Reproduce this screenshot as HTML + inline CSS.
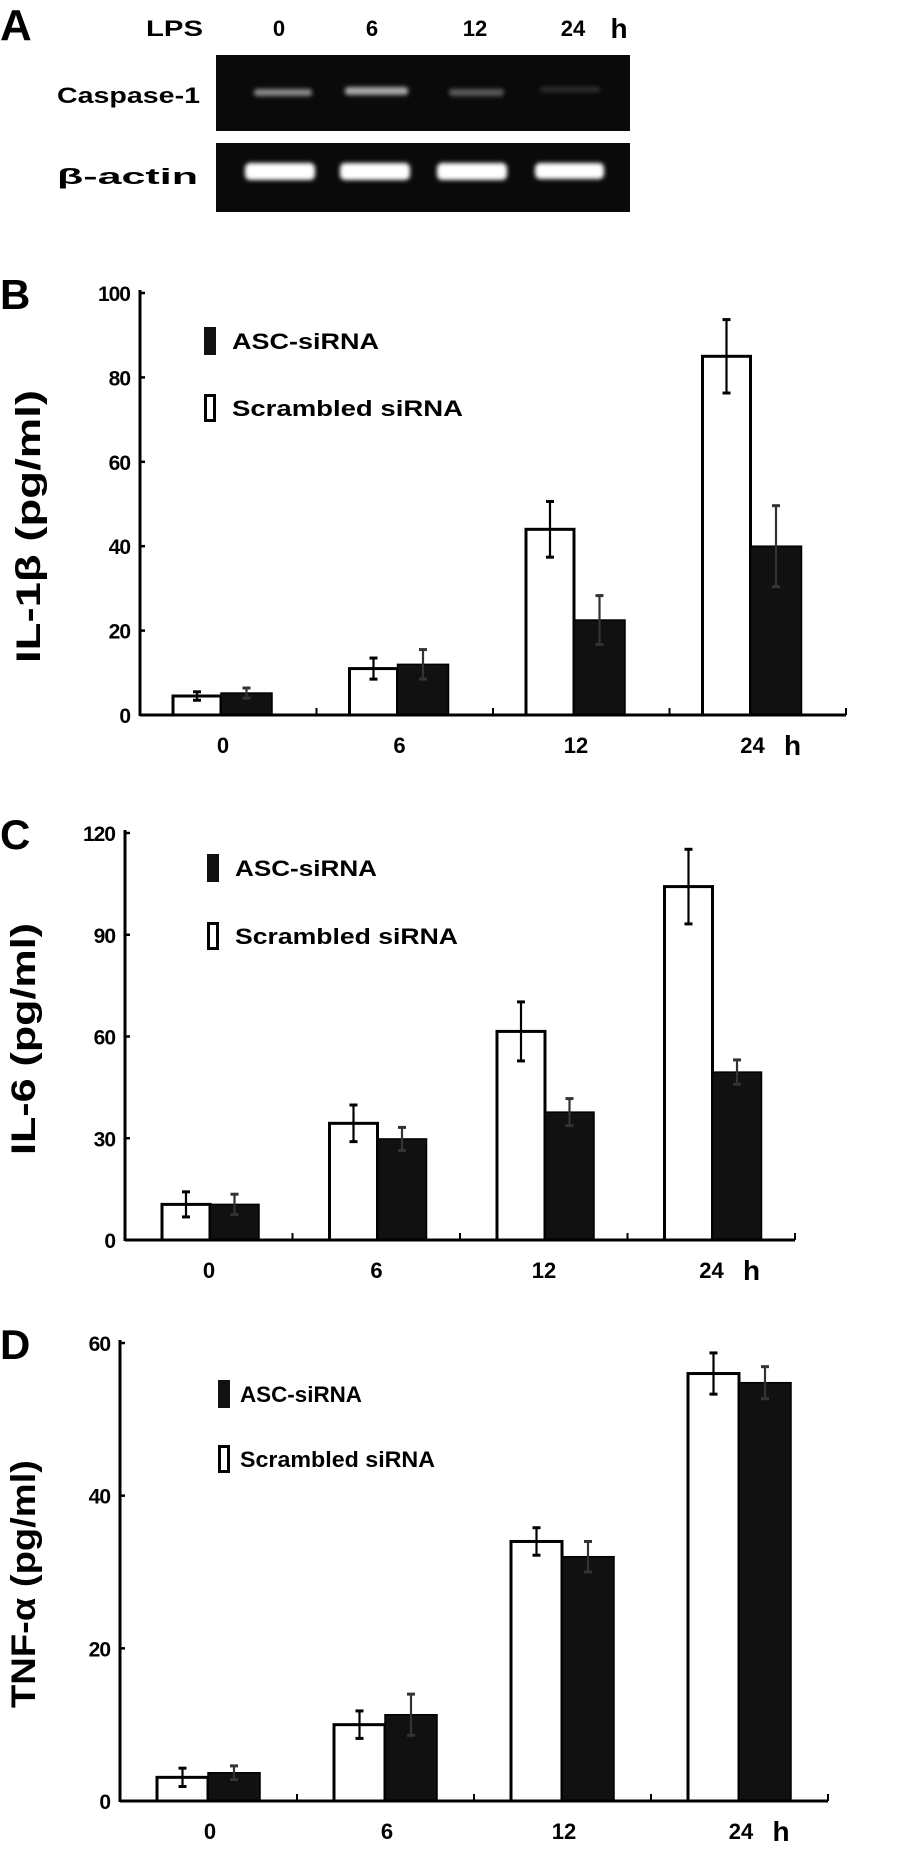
<!DOCTYPE html>
<html><head><meta charset="utf-8"><style>
html,body{margin:0;padding:0;background:#fff;}
svg{display:block;}
text{font-family:"Liberation Sans",Arial,sans-serif;font-weight:bold;fill:#000;}
</style></head><body>
<svg id="fig" width="898" height="1866" viewBox="0 0 898 1866" xmlns="http://www.w3.org/2000/svg">
  <g>
    <text x="0" y="40" font-size="44">A</text>
    <text x="146" y="36" font-size="22" textLength="57" lengthAdjust="spacingAndGlyphs">LPS</text>
    <text x="279" y="36" font-size="22" text-anchor="middle">0</text>
    <text x="372" y="36" font-size="22" text-anchor="middle">6</text>
    <text x="475" y="36" font-size="22" text-anchor="middle">12</text>
    <text x="573" y="36" font-size="22" text-anchor="middle">24</text>
    <text x="619" y="38" font-size="28" text-anchor="middle" font-weight="normal">h</text>
    <text x="57" y="103" font-size="22" textLength="143" lengthAdjust="spacingAndGlyphs">Caspase-1</text>
    <text x="57" y="184" font-size="22" textLength="141" lengthAdjust="spacingAndGlyphs">β-actin</text>
    <defs>
      <filter id="blur2" x="-20%" y="-100%" width="140%" height="300%"><feGaussianBlur stdDeviation="2.2"/></filter>
    </defs>
    <rect x="216" y="55" width="414" height="76" fill="#0a0a0a"/>
    <rect x="216" y="143" width="414" height="69" fill="#0a0a0a"/>
    <g filter="url(#blur2)">
      <rect x="254" y="89" width="58" height="7" rx="3" fill="#8a8a8a"/>
      <rect x="345" y="87" width="63" height="8" rx="3" fill="#a8a8a8"/>
      <rect x="449" y="89" width="55" height="7" rx="3" fill="#5a5a5a"/>
      <rect x="540" y="87" width="60" height="5" rx="3" fill="#333"/>
      <rect x="245" y="163" width="70" height="17" rx="5" fill="#fff"/>
      <rect x="340" y="163" width="70" height="17" rx="5" fill="#fff"/>
      <rect x="437" y="163" width="70" height="17" rx="5" fill="#fff"/>
      <rect x="535" y="163" width="69" height="16" rx="5" fill="#fff"/>
    </g>
  </g>
  <g id="charts"></g>
</svg>
<script>
// shared categories
const categories = ["0", "6", "12", "24"];
// Panel B: IL-1beta
const bScrambled = [4.5, 11, 44, 85];
const bScrambledErr = [1.0, 2.5, 6.6, 8.7];
const bAsc = [5.2, 12, 22.5, 40];
const bAscErr = [1.2, 3.5, 5.8, 9.6];
const bTicks = [0, 20, 40, 60, 80, 100];
// Panel C: IL-6
const cScrambled = [10.5, 34.4, 61.5, 104.2];
const cScrambledErr = [3.7, 5.4, 8.7, 11];
const cAsc = [10.5, 29.8, 37.7, 49.5];
const cAscErr = [3.0, 3.4, 4.0, 3.6];
const cTicks = [0, 30, 60, 90, 120];
// Panel D: TNF-alpha
const dScrambled = [3.1, 10.0, 34.0, 56.0];
const dScrambledErr = [1.2, 1.8, 1.8, 2.7];
const dAsc = [3.7, 11.3, 32.0, 54.8];
const dAscErr = [0.9, 2.7, 2.0, 2.1];
const dTicks = [0, 20, 40, 60];

const NS = "http://www.w3.org/2000/svg";
const root = document.getElementById("charts");
function mk(tag, attrs, parent) {
  const e = document.createElementNS(NS, tag);
  for (const k in attrs) e.setAttribute(k, attrs[k]);
  (parent || root).appendChild(e);
  return e;
}
function chart(cfg) {
  const g = mk("g", {});
  
  
  const vmax = cfg.ticks[cfg.ticks.length - 1];
  const y = v => cfg.base - (v / vmax) * (cfg.base - cfg.top);
  const gx = i => cfg.axisX + cfg.offset + i * cfg.step;
  // panel letter
  const pl = mk("text", {x: 0, y: cfg.top + 16, "font-size": 42}, g);
  pl.textContent = cfg.letter;
  
  
  // y title
  const tt = mk("text", {x: 0, y: 0, "font-size": 34, transform: "translate(" + cfg.titleX + "," + cfg.titleY1 + ") rotate(-90)", textLength: cfg.titleY1 - cfg.titleY0, lengthAdjust: "spacingAndGlyphs"}, g);
  tt.textContent = cfg.title;
  
  
  // bars
  cfg.ticks.length;
  for (let i = 0; i < categories.length; i++) {
    const x0 = gx(i);
    const w = mk("rect", {x: x0, y: y(cfg.scr[i]), width: cfg.bw, height: cfg.base - y(cfg.scr[i]), fill: "#fff", stroke: "#000", "stroke-width": 3}, g);
    
    
    const b = mk("rect", {x: x0 + cfg.bw, y: y(cfg.asc[i]), width: cfg.bw2, height: cfg.base - y(cfg.asc[i]), fill: "#111", stroke: "#000", "stroke-width": 1.5}, g);
    
    
    const pairs = [[x0 + cfg.bw / 2, cfg.scr[i], cfg.scrErr[i], '#000', 'scrambled'], [x0 + cfg.bw + cfg.bw2 / 2, cfg.asc[i], cfg.ascErr[i], '#333', 'asc']];
    for (const p of pairs) {
      const eg = mk("g", {stroke: p[3], "stroke-width": 2.2}, g);
      
      
      mk("line", {x1: p[0], x2: p[0], y1: y(p[1] + p[2]), y2: y(p[1] - p[2])}, eg);
      mk("line", {x1: p[0] - 4, x2: p[0] + 4, y1: y(p[1] + p[2]), y2: y(p[1] + p[2]), "stroke-width": 3}, eg);
      mk("line", {x1: p[0] - 4, x2: p[0] + 4, y1: y(p[1] - p[2]), y2: y(p[1] - p[2]), "stroke-width": 3}, eg);
    }
    const lbl = mk("text", {x: x0 + cfg.bw + cfg.labelShift, y: cfg.base + 38, "font-size": 22, "text-anchor": "middle"}, g);
    lbl.textContent = categories[i];
    
    
    const tk = mk("line", {x1: cfg.axisX + (i + 1) * cfg.step, x2: cfg.axisX + (i + 1) * cfg.step, y1: cfg.base, y2: cfg.base - 7, stroke: "#000", "stroke-width": 2}, g);
    
    
  }
  const h = mk("text", {x: gx(3) + cfg.bw + cfg.labelShift + 40, y: cfg.base + 40, "font-size": 28, "text-anchor": "middle", "font-weight": "normal"}, g);
  h.textContent = "h";
  
  
  // axes
  const ya = mk("line", {x1: cfg.axisX, x2: cfg.axisX, y1: cfg.top - 3, y2: cfg.base + 1, stroke: "#000", "stroke-width": 3}, g);
  
  
  const xa = mk("line", {x1: cfg.axisX, x2: cfg.axisX + 4 * cfg.step, y1: cfg.base, y2: cfg.base, stroke: "#000", "stroke-width": 3}, g);
  
  
  for (const t of cfg.ticks) {
    const tl = mk("line", {x1: cfg.axisX, x2: cfg.axisX + 5, y1: y(t), y2: y(t), stroke: "#000", "stroke-width": 2.5}, g);
    
    
    const tx = mk("text", {x: cfg.axisX - 10, y: y(t) + 8, "font-size": 21, "text-anchor": "end", "font-weight": "normal", transform: "", "letter-spacing": "-1"}, g);
    tx.textContent = String(t);
    
    
  }
  // legend
  const lg = mk("g", {}, g);
  
  
  const s1 = mk("rect", {x: cfg.legX, y: cfg.legY1 - 14, width: 12, height: 28, fill: "#111"}, lg);
  
  
  const t1 = mk("text", {x: cfg.legTX, y: cfg.legY1 + 8, "font-size": 22, textLength: cfg.legW1, lengthAdjust: "spacingAndGlyphs"}, lg);
  t1.textContent = "ASC-siRNA";
  
  
  const s2 = mk("rect", {x: cfg.legX + 1.5, y: cfg.legY2 - 12.5, width: 9, height: 25, fill: "#fff", stroke: "#000", "stroke-width": 3}, lg);
  
  
  const t2 = mk("text", {x: cfg.legTX, y: cfg.legY2 + 8, "font-size": 22, textLength: cfg.legW2, lengthAdjust: "spacingAndGlyphs"}, lg);
  t2.textContent = "Scrambled  siRNA";
  
  
}
chart({id: "panel-b-il1b-chart", letter: "B", title: "IL-1β  (pg/ml)", titleX: 40, titleY0: 390, titleY1: 663,
  axisX: 140, top: 293, base: 715, offset: 33, step: 176.5, bw: 48, bw2: 51, labelShift: 2,
  ticks: bTicks, scr: bScrambled, scrErr: bScrambledErr, asc: bAsc, ascErr: bAscErr,
  legX: 204, legTX: 232, legY1: 341, legY2: 408, legW1: 147, legW2: 231});
chart({id: "panel-c-il6-chart", letter: "C", title: "IL-6  (pg/ml)", titleX: 35, titleY0: 923, titleY1: 1155,
  axisX: 125, top: 833, base: 1240, offset: 37, step: 167.5, bw: 48, bw2: 49, labelShift: -1,
  ticks: cTicks, scr: cScrambled, scrErr: cScrambledErr, asc: cAsc, ascErr: cAscErr,
  legX: 207, legTX: 235, legY1: 868, legY2: 936, legW1: 142, legW2: 223});
chart({id: "panel-d-tnfa-chart", letter: "D", title: "TNF-α  (pg/ml)", titleX: 35, titleY0: 1460, titleY1: 1708,
  axisX: 120, top: 1343, base: 1801, offset: 37, step: 177, bw: 51, bw2: 52, labelShift: 2,
  ticks: dTicks, scr: dScrambled, scrErr: dScrambledErr, asc: dAsc, ascErr: dAscErr,
  legX: 218, legTX: 240, legY1: 1394, legY2: 1459, legW1: 122, legW2: 195});
</script>
</body></html>
